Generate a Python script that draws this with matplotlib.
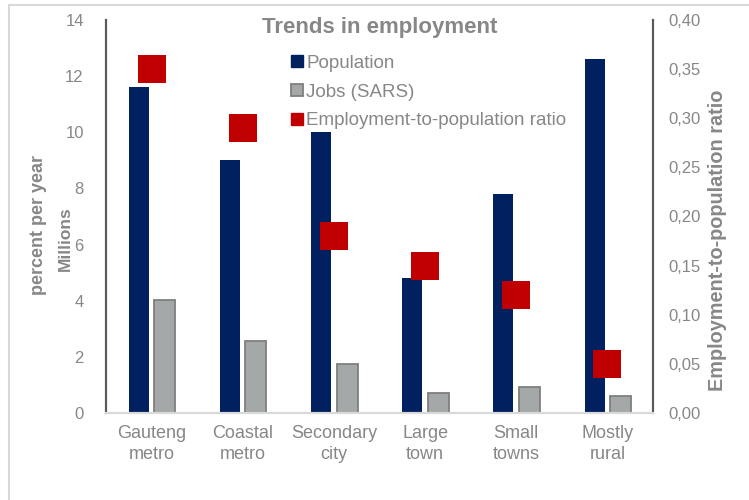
import matplotlib.pyplot as plt
import numpy as np
from matplotlib.patches import Patch, Rectangle
from matplotlib.ticker import FuncFormatter

plt.rcParams['font.family'] = ['Liberation Sans', 'DejaVu Sans']

categories = ['Gauteng\nmetro', 'Coastal\nmetro', 'Secondary\ncity', 'Large\ntown', 'Small\ntowns', 'Mostly\nrural']
population = [11.6, 9.0, 10.0, 4.8, 7.8, 12.6]      # millions
jobs_sars = [4.03, 2.56, 1.75, 0.71, 0.93, 0.61]     # millions
emp_ratio = [0.35, 0.29, 0.18, 0.15, 0.12, 0.05]

navy = '#002060'
grey_fill = '#a5a8a9'
grey_edge = '#7f7f7f'
red = '#c00000'
txt = '#878787'

fig = plt.figure(figsize=(7.49, 5.0), dpi=100)
ax = fig.add_axes([0.1415, 0.174, 0.7303, 0.786])
ax2 = ax.twinx()

x = np.arange(len(categories))
ax.bar(x - 0.14, population, width=0.22, color=navy, zorder=2)
ax.bar(x + 0.145, jobs_sars, width=0.23, color=grey_fill, edgecolor=grey_edge, linewidth=1.3, zorder=2)
ax2.plot(x, emp_ratio, linestyle='none', marker='s', markersize=20, color=red, markeredgewidth=0, zorder=3)

ax.set_xlim(-0.5, 5.5)
ax.set_ylim(0, 14)
ax.set_yticks(range(0, 15, 2))
ax2.set_ylim(0, 0.40)
ax2.set_yticks(np.arange(0, 0.401, 0.05))
ax2.yaxis.set_major_formatter(FuncFormatter(lambda v, p: f'{v:.2f}'.replace('.', ',')))

ax.set_xticks(x)
ax.set_xticklabels(categories, fontsize=13, color=txt, linespacing=1.3)
ax.tick_params(axis='x', length=0, pad=9)
ax.tick_params(axis='y', length=0, pad=16, labelsize=12, labelcolor=txt)
ax2.tick_params(axis='y', length=0, pad=11, labelsize=12, labelcolor=txt)

for a in (ax, ax2):
    a.spines['top'].set_visible(False)
    a.spines['left'].set_color('#595959')
    a.spines['right'].set_color('#595959')
    a.spines['left'].set_linewidth(1.5)
    a.spines['right'].set_linewidth(1.5)
    a.spines['bottom'].set_color('#d9d9d9')
    a.spines['bottom'].set_linewidth(1.5)

fig.text(0.507, 0.946, 'Trends in employment', ha='center', va='center',
         fontsize=16, fontweight='bold', color=txt)
fig.text(0.051, 0.55, 'percent per year', rotation=90, ha='center', va='center',
         fontsize=13, fontweight='bold', color=txt)
fig.text(0.087, 0.522, 'Millions', rotation=90, ha='center', va='center',
         fontsize=12.5, fontweight='bold', color=txt)
fig.text(0.958, 0.52, 'Employment-to-population ratio', rotation=90, ha='center', va='center',
         fontsize=14.3, fontweight='bold', color=txt)

handles = [Patch(facecolor=navy, edgecolor=navy),
           Patch(facecolor=grey_fill, edgecolor=grey_edge, linewidth=1.3),
           Patch(facecolor=red, edgecolor=red)]
ax2.legend(handles, ['Population', 'Jobs (SARS)', 'Employment-to-population ratio'],
           loc='upper left', bbox_to_anchor=(0.325, 0.93), frameon=False,
           fontsize=13.5, labelcolor=txt, handlelength=0.6, handleheight=0.6,
           handletextpad=0.2, labelspacing=0.62, borderaxespad=0)

# light outer frame
fig.patches.append(Rectangle((0.012, -0.1), 1.2, 1.09, transform=fig.transFigure,
                             fill=False, edgecolor='#d9d9d9', linewidth=1.5))

fig.savefig('out.png', dpi=100)
